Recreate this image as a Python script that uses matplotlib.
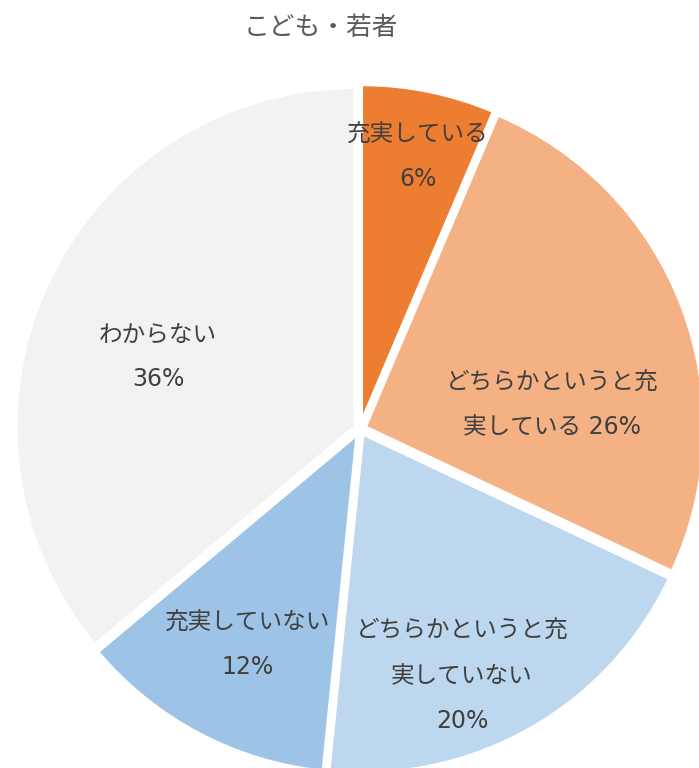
import matplotlib.pyplot as plt

plt.rcParams['font.family'] = ['DejaVu Sans', 'Noto Sans CJK JP']

# === Data ===
title = "こども・若者"
categories = ["充実している", "どちらかというと充実している", "どちらかというと充実していない",
              "充実していない", "わからない"]
shares = [6.4, 25.6, 19.6, 12.3, 36.1]   # slice sizes as measured; labels show rounded values
label_lines = [["充実している", "6%"],
               ["どちらかというと充", "実している 26%"],
               ["どちらかというと充", "実していない", "20%"],
               ["充実していない", "12%"],
               ["わからない", "36%"]]
colors = ["#ED7D31", "#F4B183", "#BDD7EE", "#9DC3E6", "#F2F2F2"]

# label centres in pixel coords (x, y from top)
label_pos = [(418, 157), (552, 405), (462, 676), (248, 645), (158, 357)]
line_gap = 45

W, H = 699, 768
fig = plt.figure(figsize=(W / 100, H / 100), dpi=100)
ax = fig.add_axes([0, 0, 1, 1])

# explode offsets are in data units (pixels here)
cx, cy, R = 360, H - 429, 340
ax.pie(shares, colors=colors, startangle=90, counterclock=False,
       center=(cx, cy), radius=R, explode=[5] * len(shares),
       wedgeprops=dict(edgecolor='white', linewidth=3), frame=True)
ax.set_xlim(0, W)
ax.set_ylim(0, H)
ax.axis('off')

for lines, (x, y) in zip(label_lines, label_pos):
    n = len(lines)
    for i, line in enumerate(lines):
        yy = y + (i - (n - 1) / 2) * line_gap
        ax.text(x, H - yy, line, ha='center', va='center', fontsize=17, color='#404040')

ax.text(321, H - 28, title, ha='center', va='center', fontsize=18.5, color='#595959')

fig.savefig("out.png", dpi=100)
